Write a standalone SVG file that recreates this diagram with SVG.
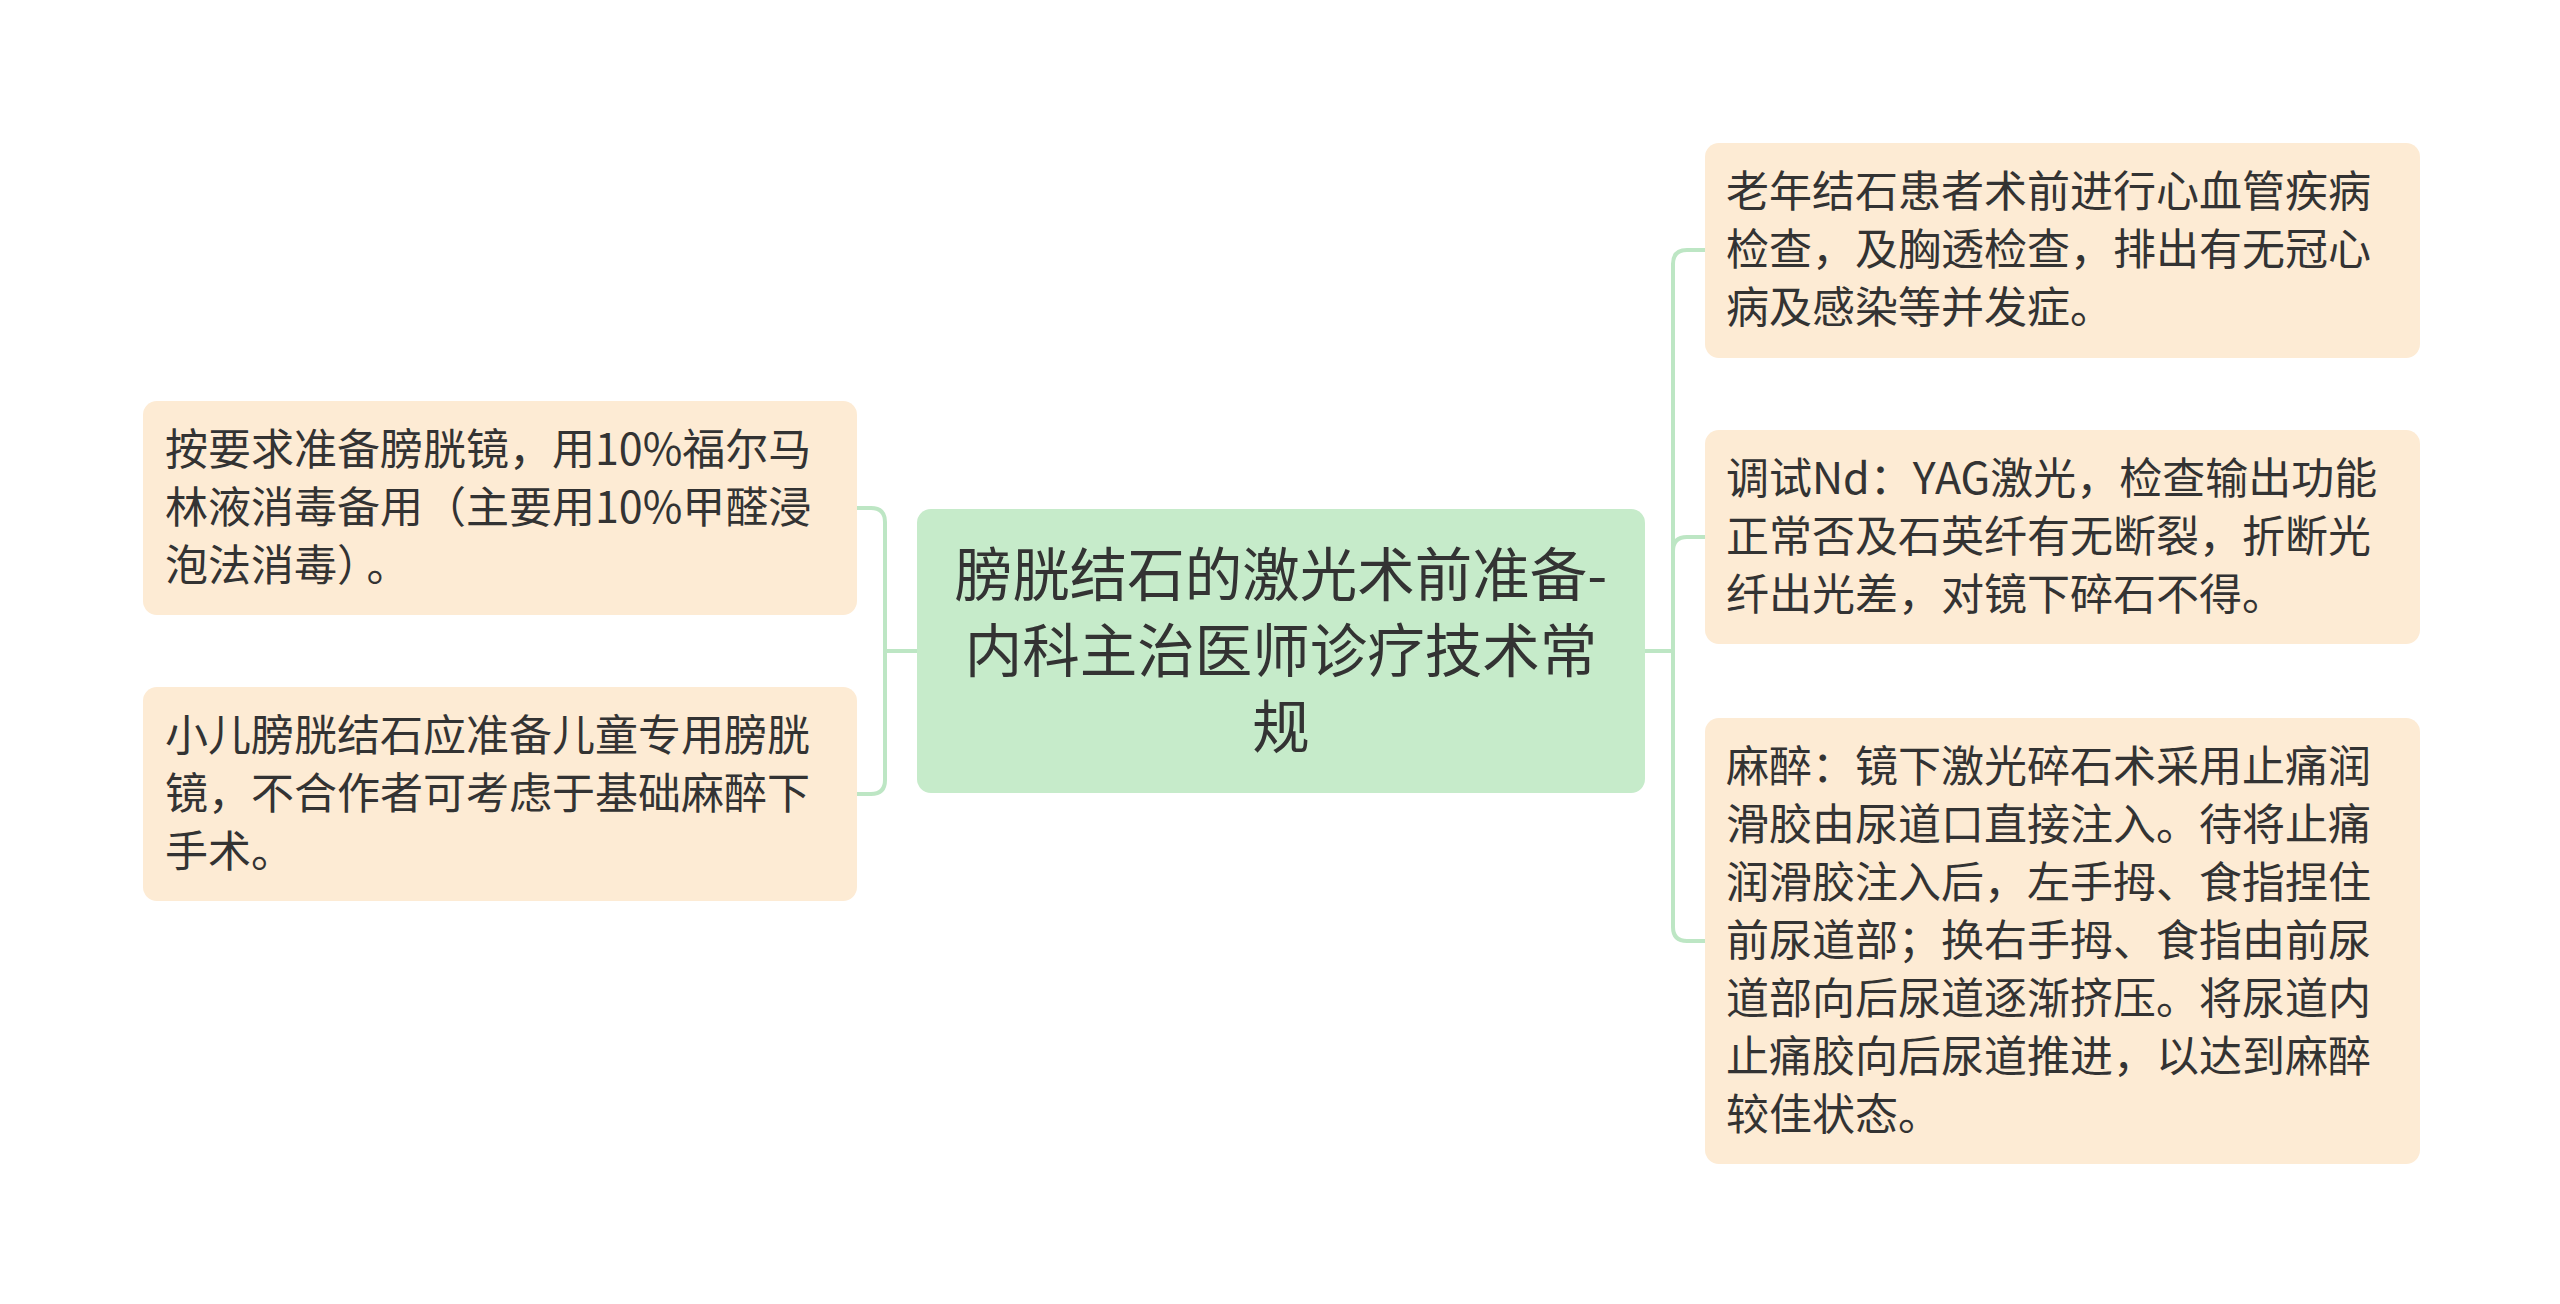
<svg xmlns="http://www.w3.org/2000/svg" width="2560" height="1304" viewBox="0 0 2560 1304">
<style>
.leaf{fill:#FDEBD4;}
.root{fill:#C6EBCA;}
.t{font-family:"Noto Sans CJK SC","Noto Sans",sans-serif;fill:#333333;font-size:43px;dominant-baseline:central;}
.rt{font-family:"Noto Sans CJK SC","Noto Sans",sans-serif;fill:#333333;font-size:57.5px;dominant-baseline:central;text-anchor:middle;}
.c{fill:none;stroke:#BDE6C4;stroke-width:4;}
</style>
<rect width="2560" height="1304" fill="#FFFFFF"/>
<g id="connectors">
<path class="c" d="M917,651 H885"/>
<path class="c" d="M885,651 V522 Q885,508 871,508 H857"/>
<path class="c" d="M885,651 V780 Q885,794 871,794 H857"/>
<path class="c" d="M1645,651 H1673"/>
<path class="c" d="M1673,651 V264 Q1673,250 1687,250 H1705"/>
<path class="c" d="M1673,651 V551 Q1673,537 1687,537 H1705"/>
<path class="c" d="M1673,651 V927 Q1673,941 1687,941 H1705"/>
</g>
<g id="root">
<rect class="root" x="917" y="509" width="728" height="284" rx="14"/>
<text class="rt" x="1281" y="571">膀胱结石的激光术前准备-</text>
<text class="rt" x="1281" y="647">内科主治医师诊疗技术常</text>
<text class="rt" x="1281" y="723">规</text>
</g>
<g id="left1">
<rect class="leaf" x="143" y="401" width="714" height="214" rx="14"/>
<text class="t" x="165" y="446">按要求准备膀胱镜，用10%福尔马</text>
<text class="t" x="165" y="504">林液消毒备用（主要用10%甲醛浸</text>
<text class="t" x="165" y="562">泡法消毒）<tspan dx="8">。</tspan></text>
</g>
<g id="left2">
<rect class="leaf" x="143" y="687" width="714" height="214" rx="14"/>
<text class="t" x="165" y="732">小儿膀胱结石应准备儿童专用膀胱</text>
<text class="t" x="165" y="790">镜，不合作者可考虑于基础麻醉下</text>
<text class="t" x="165" y="848">手术。</text>
</g>
<g id="right1">
<rect class="leaf" x="1705" y="143" width="715" height="215" rx="14"/>
<text class="t" x="1726" y="188">老年结石患者术前进行心血管疾病</text>
<text class="t" x="1726" y="246">检查，及胸透检查，排出有无冠心</text>
<text class="t" x="1726" y="304">病及感染等并发症。</text>
</g>
<g id="right2">
<rect class="leaf" x="1705" y="430" width="715" height="214" rx="14"/>
<text class="t" x="1726" y="475">调试Nd：YAG激光，检查输出功能</text>
<text class="t" x="1726" y="533">正常否及石英纤有无断裂，折断光</text>
<text class="t" x="1726" y="591">纤出光差，对镜下碎石不得。</text>
</g>
<g id="right3">
<rect class="leaf" x="1705" y="718" width="715" height="446" rx="14"/>
<text class="t" x="1726" y="763">麻醉：镜下激光碎石术采用止痛润</text>
<text class="t" x="1726" y="821">滑胶由尿道口直接注入。待将止痛</text>
<text class="t" x="1726" y="879">润滑胶注入后，左手拇、食指捏住</text>
<text class="t" x="1726" y="937">前尿道部；换右手拇、食指由前尿</text>
<text class="t" x="1726" y="995">道部向后尿道逐渐挤压。将尿道内</text>
<text class="t" x="1726" y="1053">止痛胶向后尿道推进，以达到麻醉</text>
<text class="t" x="1726" y="1111">较佳状态。</text>
</g>
</svg>
